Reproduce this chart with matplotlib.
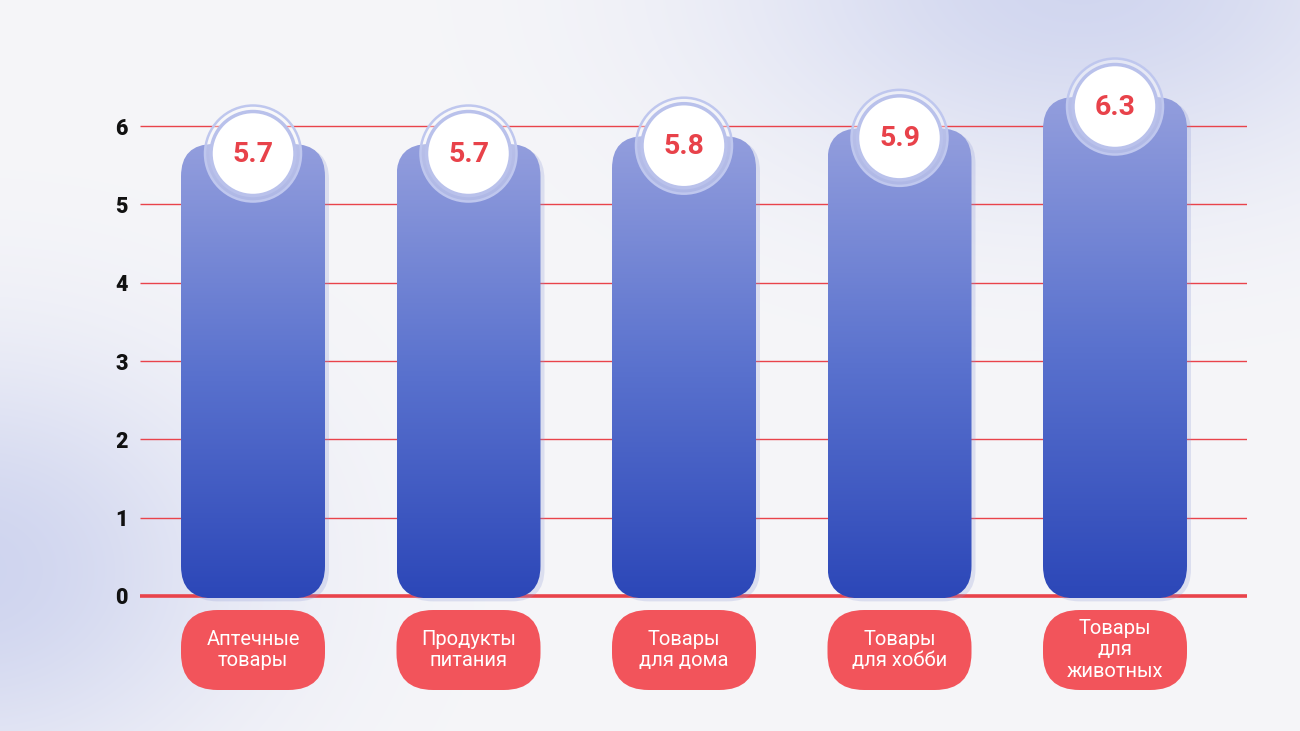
import numpy as np
import matplotlib
matplotlib.use('Agg')
import matplotlib.pyplot as plt
from matplotlib.patches import FancyBboxPatch, Ellipse
from matplotlib.colors import LinearSegmentedColormap

# data
categories = ['Аптечные\nтовары', 'Продукты\nпитания', 'Товары\nдля дома',
              'Товары\nдля хобби', 'Товары\nдля\nживотных']
values = [5.7, 5.7, 5.8, 5.9, 6.3]
yticks = [0, 1, 2, 3, 4, 5, 6]

plt.rcParams['font.family'] = ['Roboto', 'DejaVu Sans']

W, H = 1300, 731
fig = plt.figure(figsize=(W / 100, H / 100), dpi=100)

# soft background with bluish glows
bg = fig.add_axes([0, 0, 1, 1])
bg.axis('off')
yy, xx = np.mgrid[0:H, 0:W]
g1 = np.exp(-(((xx - 1080) / 340.0) ** 2 + ((yy + 20) / 200.0) ** 2))
g2 = np.exp(-(((xx + 30) / 270.0) ** 2 + ((yy - 570) / 210.0) ** 2))
wgt = np.clip(0.85 * g1 + 0.9 * g2, 0, 1)[..., None]
base = np.array([246, 246, 249]) / 255
glow = np.array([203, 209, 238]) / 255
bg.imshow(base * (1 - wgt) + glow * wgt, extent=[0, W, H, 0], aspect='auto')
bg.set_xlim(0, W)
bg.set_ylim(H, 0)

# main axes: pixel geometry -> data units
px_x = 215.5   # pixels per category step
px_y = 78.33   # pixels per y unit
ax = fig.add_axes([140 / W, 0, 1107 / W, 1])
ax.patch.set_alpha(0)
xlim = (-113 / px_x, 4 + 132 / px_x)
ylim = (-135 / px_y, 596 / px_y)
asp = px_x / px_y

for s in ax.spines.values():
    s.set_visible(False)
ax.set_xticks([])
ax.set_yticks(yticks)
ax.set_yticklabels([str(t) for t in yticks], fontsize=15.5, fontweight='black', color='#111111')
ax.tick_params(axis='y', length=0, pad=9)

ax.hlines(yticks[1:], xlim[0], xlim[1], color='#E9434B', lw=1.0, zorder=1)
ax.hlines([0], xlim[0], xlim[1], color='#E9434B', lw=2.6, zorder=1)

cmap = LinearSegmentedColormap.from_list('bar', ['#2C47B8', '#5A72CE', '#939EDD'])
grad = np.linspace(0, 1, 256)[:, None]
bw = 144 / px_x

for i, v in enumerate(values):
    x0 = i - bw / 2
    y0 = -0.03
    h = v + 0.07 - y0
    # faint shadow
    sh = FancyBboxPatch((x0 + 4 / px_x, y0 - 3 / px_y), bw, h,
                        boxstyle='round,pad=0,rounding_size=0.15',
                        mutation_aspect=asp, fc='#8E9AD6', ec='none', alpha=0.25, zorder=2)
    ax.add_patch(sh)
    bar = FancyBboxPatch((x0, y0), bw, h, boxstyle='round,pad=0,rounding_size=0.15',
                         mutation_aspect=asp, fc='none', ec='none', zorder=3)
    ax.add_patch(bar)
    im = ax.imshow(grad, extent=[x0, x0 + bw, y0, y0 + h], origin='lower',
                   cmap=cmap, aspect='auto', zorder=3)
    im.set_clip_path(bar)

    # value badge
    cy = v - 4 / px_y
    ax.add_patch(Ellipse((i, cy), 2 * 48 / px_x, 2 * 48 / px_y, fc='white', alpha=0.35,
                         ec='none', zorder=4))
    ax.add_patch(Ellipse((i, cy), 2 * 48 / px_x, 2 * 48 / px_y, fc='none',
                         ec='#BFC7EE', lw=1.8, zorder=4))
    ax.add_patch(Ellipse((i, cy), 2 * 42 / px_x, 2 * 42 / px_y, fc='white',
                         ec='#B9C1EB', lw=2.5, zorder=5))
    ax.text(i, cy - 1 / px_y, f'{v:.1f}', ha='center', va='center', fontsize=20.5,
            fontweight='bold', color='#E8424A', zorder=6)

    # category pill
    top = -14 / px_y
    bot = -94 / px_y
    pill = FancyBboxPatch((x0, bot), bw, top - bot, boxstyle='round,pad=0,rounding_size=0.17',
                          mutation_aspect=asp, fc='#F2545B', ec='none', zorder=3)
    ax.add_patch(pill)
    ax.text(i, (top + bot) / 2, categories[i], ha='center', va='center', fontsize=14.5,
            color='white', linespacing=1.15, zorder=4)

ax.set_xlim(*xlim)
ax.set_ylim(*ylim)

fig.savefig('out.png', dpi=100)
